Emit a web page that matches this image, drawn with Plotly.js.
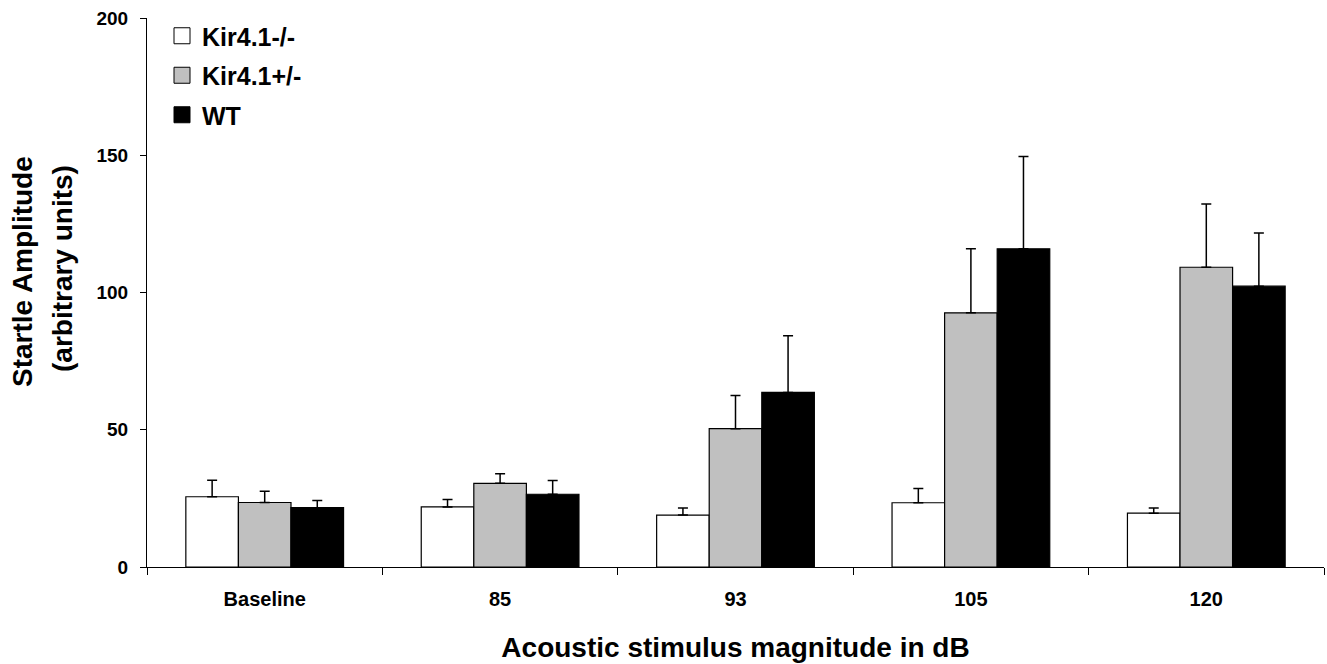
<!DOCTYPE html>
<html>
<head>
<meta charset="utf-8">
<script src="https://cdn.plot.ly/plotly-3.0.1.min.js"></script>
<style>html,body{margin:0;padding:0;background:#fff;}#chart{width:1327px;height:664px;}</style>
</head>
<body>
<div id="chart"></div>
<script>
const categories = ['Baseline', '85', '93', '105', '120'];
const seriesNames = ['Kir4.1-/-', 'Kir4.1+/-', 'WT'];
const koValues = [25.6, 21.9, 18.9, 23.4, 19.6];
const koErrors = [6.0, 2.7, 2.6, 5.2, 1.9];
const hetValues = [23.5, 30.5, 50.4, 92.6, 109.2];
const hetErrors = [4.1, 3.5, 12.1, 23.3, 23.0];
const wtValues = [21.6, 26.5, 63.6, 115.9, 102.3];
const wtErrors = [2.6, 5.0, 20.6, 33.6, 19.4];
const yTickValues = [0, 50, 100, 150, 200];

const FONT = 'Liberation Sans, Arial, sans-serif';
const colors = ['#ffffff', '#c0c0c0', '#000000'];
const vals = [koValues, hetValues, wtValues];
const errs = [koErrors, hetErrors, wtErrors];

const traces = [];
for (let i = 0; i < 3; i++) {
  traces.push({
    type: 'bar', x: categories, y: vals[i], name: seriesNames[i],
    showlegend: false,
    marker: {color: colors[i], line: {color: '#000', width: 1.2}},
    error_y: {type: 'data', symmetric: false, array: errs[i], arrayminus: errs[i].map(() => 0),
              color: '#000', thickness: 1.5, width: 5}
  });
}
for (let i = 0; i < 3; i++) {
  traces.push({
    type: 'scatter', mode: 'markers', x: [null], y: [null], name: seriesNames[i],
    legendgroup: 'g' + i, showlegend: true,
    marker: {symbol: 'square', size: 16, color: colors[i], line: {color: '#000', width: 1}}
  });
}

const L = 147, R = 3, T = 18, B = 97;
const W = 1327, H = 664;
const pw = W - L - R, ph = H - T - B;
function px2x(p) { return (p - L) / pw; }
function py2y(p) { return (H - B - p) / ph; }

const layout = {
  width: W, height: H,
  margin: {l: L, r: R, t: T, b: B, pad: 0},
  paper_bgcolor: '#fff', plot_bgcolor: '#fff',
  font: {family: FONT, color: '#000', weight: 700},
  barmode: 'group', bargap: 0.33, bargroupgap: 0,
  showlegend: true,
  legend: {x: px2x(162), y: py2y(13), xanchor: 'left', yanchor: 'top',
           font: {family: FONT, size: 25, weight: 700, color: '#000'},
           tracegroupgap: 4, bgcolor: 'rgba(0,0,0,0)', borderwidth: 0, itemclick: false},
  xaxis: {type: 'category', categoryarray: categories, showline: true, linecolor: '#000', linewidth: 1,
          ticks: 'outside', tickson: 'boundaries', ticklen: 7, tickcolor: '#000', tickwidth: 1,
          tickfont: {family: FONT, size: 20, weight: 700}, ticklabelstandoff: 14,
          showgrid: false, zeroline: false,
          title: {text: 'Acoustic stimulus magnitude in dB', font: {family: FONT, size: 28, weight: 700}, standoff: 28}},
  yaxis: {range: [0, 200], tickvals: yTickValues, showline: true, linecolor: '#000', linewidth: 1,
          ticks: 'outside', ticklen: 6, tickcolor: '#000', tickwidth: 1,
          tickfont: {family: FONT, size: 19, weight: 700}, ticklabelstandoff: 8,
          showgrid: false, zeroline: false},
  annotations: [
    {text: 'Startle Amplitude', xref: 'paper', yref: 'paper', x: px2x(22), y: py2y(272),
     xanchor: 'center', yanchor: 'middle', textangle: -90, showarrow: false,
     font: {family: FONT, size: 28, weight: 700, color: '#000'}},
    {text: '(arbitrary units)', xref: 'paper', yref: 'paper', x: px2x(62), y: py2y(269),
     xanchor: 'center', yanchor: 'middle', textangle: -90, showarrow: false,
     font: {family: FONT, size: 28, weight: 700, color: '#000'}}
  ]
};

Plotly.newPlot('chart', traces, layout, {displayModeBar: false, staticPlot: true});
</script>
</body>
</html>
